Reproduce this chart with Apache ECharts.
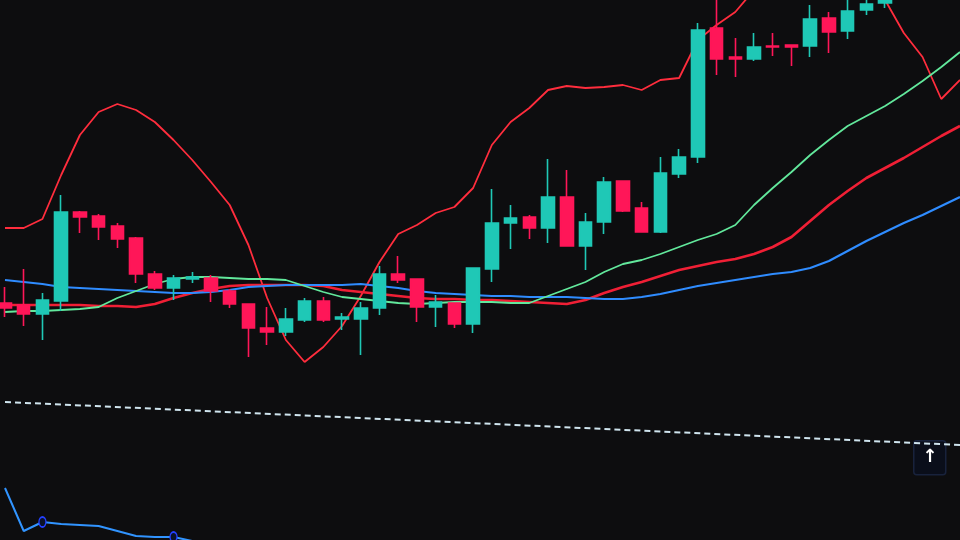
<!DOCTYPE html>
<html>
<head>
<meta charset="utf-8">
<style>
html,body{margin:0;padding:0;background:#0d0d0f;}
#c{width:960px;height:540px;}
</style>
<script src="https://cdn.jsdelivr.net/npm/echarts@6/dist/echarts.min.js"></script>
</head>
<body>
<div id="c"></div>
<script>
// ---- data (price units) ----
const categories = Array.from({length: 52}, (_, i) => 'D' + (i + 1));

// [open, close, low, high]
const candles = [
  [23.7,23.2,22.3,25.3],[23.5,22.6,21.4,27.1],[22.6,24.0,20.0,24.7],[23.9,32.8,22.9,34.5],
  [32.8,32.3,30.7,32.9],[32.4,31.3,30.0,32.6],[31.4,30.1,29.2,31.7],[30.2,26.6,25.7,30.3],
  [26.6,25.2,25.0,26.9],[25.2,26.2,24.0,26.5],[26.1,26.3,25.7,26.8],[26.2,24.9,23.8,26.5],
  [24.9,23.6,23.2,25.1],[23.6,21.2,18.3,23.6],[21.2,20.8,19.5,23.3],[20.8,22.1,20.4,23.2],
  [22.0,23.9,21.8,24.2],[23.9,22.0,21.8,24.3],[22.1,22.3,21.0,22.7],[22.1,23.2,18.5,23.8],
  [23.2,26.6,22.5,27.4],[26.6,26.0,25.7,28.4],[26.1,23.3,21.8,26.1],[23.3,23.8,21.3,24.5],
  [23.7,21.6,21.2,23.7],[21.6,27.2,20.7,27.2],[27.1,31.7,25.8,35.1],[31.7,32.2,29.1,33.5],
  [32.3,31.2,30.1,32.5],[31.2,34.3,29.7,38.1],[34.3,29.4,29.4,37.0],[29.4,31.8,27.0,32.7],
  [31.8,35.8,30.6,36.3],[35.9,32.9,32.8,35.9],[33.2,30.8,30.8,33.8],[30.8,36.7,30.7,38.3],
  [36.6,38.3,36.2,39.1],[38.3,51.0,37.7,51.7],[51.2,48.1,46.5,55.5],[48.3,48.1,46.3,50.2],
  [48.1,49.3,47.9,50.7],[49.4,49.3,48.4,50.7],[49.5,49.3,47.4,49.5],[49.4,52.1,48.3,53.5],
  [52.2,50.8,48.7,52.8],[50.9,52.9,50.1,54.5],[53.0,53.6,52.5,54.5],[53.7,54.3,53.2,55.5]
];

const maBlue = [26.0,25.8,25.6,25.3,25.2,25.1,25.0,24.9,24.8,24.7,24.7,24.8,25.0,25.3,25.4,25.5,
  25.5,25.5,25.5,25.6,25.4,25.2,24.9,24.7,24.6,24.5,24.4,24.4,24.3,24.3,24.3,24.2,24.1,24.1,
  24.3,24.6,25.0,25.4,25.7,26.0,26.3,26.6,26.8,27.2,27.9,28.9,29.9,30.8,31.7,32.5,33.4,34.3];

const maGreen = [22.8,22.9,22.9,23.0,23.1,23.3,24.2,24.9,25.6,26.1,26.3,26.3,26.2,26.1,26.1,26.0,
  25.4,24.8,24.3,24.1,23.9,23.7,23.6,23.7,23.8,23.8,23.8,23.7,23.7,24.4,25.1,25.8,26.8,27.6,
  28.0,28.6,29.3,30.0,30.6,31.5,33.5,35.2,36.8,38.5,40.0,41.4,42.4,43.4,44.6,45.9,47.3,48.8];

const maRed = [23.5,23.5,23.5,23.5,23.5,23.4,23.4,23.3,23.6,24.2,24.7,25.1,25.4,25.5,25.5,25.5,
  25.5,25.4,25.0,24.8,24.6,24.4,24.2,24.1,24.1,24.0,24.0,23.9,23.8,23.7,23.6,24.0,24.7,25.3,
  25.8,26.4,27.0,27.4,27.8,28.1,28.6,29.3,30.3,31.9,33.5,34.9,36.2,37.2,38.2,39.3,40.4,41.4];

const bandUpper = [31.2,31.2,32.1,36.5,40.5,42.8,43.6,43.0,41.8,40.0,38.0,35.8,33.5,29.5,24.2,20.0,
  17.8,19.3,21.4,24.4,27.8,30.6,31.5,32.7,33.3,35.2,39.5,41.8,43.2,45.0,45.4,45.2,45.3,45.5,
  45.0,46.0,46.2,50.0,51.5,52.8,55.0,57.0,58.0,58.0,58.0,57.0,56.0,54.0,50.7,48.3,44.1,46.0];

// lower indicator pane line
const osc = [5.2,0.9,1.8,1.6,1.5,1.4,0.9,0.4,0.3,0.3,-0.1,-0.8];
const oscMarkers = [2, 9];

// slanted dashed trend line (start and end values)
const trend = [13.8, 9.5];

// ---- chart ----
const chart = echarts.init(document.getElementById('c'), null, {renderer: 'canvas'});

const trendData = categories.map((_, i) => i === 0 ? trend[0] : (i === categories.length - 1 ? trend[1] : '-'));
const oscData = osc.map((v, i) => oscMarkers.includes(i)
  ? {value: v, symbol: 'circle', symbolSize: [7, 10],
     itemStyle: {color: '#0b1228', borderColor: '#2440ff', borderWidth: 1.5}}
  : {value: v, symbol: 'none'});

const lineBase = {type: 'line', smooth: false, showSymbol: false, symbol: 'none', silent: true, clip: true};

chart.setOption({
  backgroundColor: '#0d0d0f',
  animation: false,
  grid: {left: 5, right: 0, top: 0, bottom: 0},
  xAxis: {type: 'category', data: categories, boundaryGap: false, show: false},
  yAxis: {type: 'value', min: 0, max: 54, show: false, splitLine: {show: false}},
  series: [
    Object.assign({}, lineBase, {name: 'trend', data: trendData, connectNulls: true,
      lineStyle: {color: '#cfe4ee', width: 2, type: [6, 4]}, z: 1}),
    Object.assign({}, lineBase, {name: 'osc', data: oscData, showSymbol: true,
      lineStyle: {color: '#3194ff', width: 2}, z: 2}),
    Object.assign({}, lineBase, {name: 'upper', data: bandUpper,
      lineStyle: {color: '#ff2d3d', width: 1.8}, z: 2}),
    Object.assign({}, lineBase, {name: 'MA-red', data: maRed,
      lineStyle: {color: '#f01f35', width: 2.6}, z: 2}),
    Object.assign({}, lineBase, {name: 'MA-blue', data: maBlue,
      lineStyle: {color: '#2f8cff', width: 2.2}, z: 2}),
    Object.assign({}, lineBase, {name: 'MA-green', data: maGreen,
      lineStyle: {color: '#62e89c', width: 1.8}, z: 2}),
    {
      name: 'K', type: 'candlestick', data: candles, barWidth: 13, clip: false, z: 5,
      itemStyle: {
        color: '#1fc8b6', color0: '#ff1658',
        borderColor: '#1fc8b6', borderColor0: '#ff1658', borderWidth: 1.6
      }
    }
  ],
  graphic: [{
    type: 'group', left: 913, top: 440, z: 100,
    children: [
      {type: 'rect', shape: {x: 0, y: 0, width: 32, height: 34, r: 3},
        style: {fill: '#0a0e1a', stroke: '#18223c', lineWidth: 1.5}},
      {type: 'text', x: 16, y: 17,
        style: {text: '↑', fill: '#ffffff', font: 'bold 18px "DejaVu Sans"', align: 'center', verticalAlign: 'middle'}}
    ]
  }]
});
</script>
</body>
</html>
